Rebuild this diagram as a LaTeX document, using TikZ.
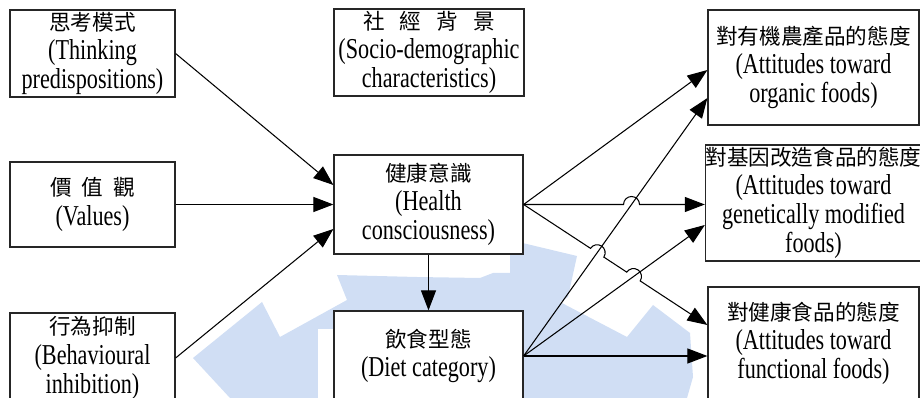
\documentclass[tikz,border=0pt]{standalone}
\usepackage{fontspec}
\setmainfont{Liberation Serif}[FakeStretch=0.77]
\newfontfamily\cjk{Noto Sans CJK TC}[Scale=0.75]
\usetikzlibrary{arrows.meta,calc,intersections}
\definecolor{wm}{RGB}{208,222,244}
\tikzset{
  box/.style={draw=black!85, line width=0.7pt, fill=white, inner sep=0pt, align=center,
    font=\fontsize{16.4pt}{16.6pt}\selectfont},
  conn/.style={line width=0.6pt, -{Triangle[length=0.4cm,width=0.3cm]}},
}
\begin{document}
\begin{tikzpicture}[x=0.02cm,y=-0.02cm]
\useasboundingbox (0,0) rectangle (920,398);
\clip (0,0) rectangle (920,398);
% watermark
\fill[wm] (230,398) -- (193,358) -- (262,302) -- (280,337) -- (347,300) -- (337,275)
  -- (417,277) -- (480,278) -- (493,273) -- (510,273) -- (510,240) -- (577,256)
  -- (568,297) -- (560,302) -- (627,337) -- (653,305) -- (690,333) -- (693,377)
  -- (687,398) -- cycle;
\fill[white] (318,329) rectangle (334,398);
% boxes
\node[box, minimum width=3.3cm, minimum height=1.74cm] (think) at (92.5,53.5)
  {{\cjk 思考模式}\\(Thinking\\predispositions)};
\node[box, minimum width=3.8cm, minimum height=1.74cm] (socio) at (429,52.5)
  {{\cjk\spaceskip=0.3cm 社 經 背 景}\\(Socio-demographic\\characteristics)};
\node[box, minimum width=3.3cm, minimum height=1.7cm] (values) at (92.5,204.5)
  {{\cjk\spaceskip=0.2cm 價 值 觀}\\(Values)};
\node[box, minimum width=3.78cm, minimum height=1.98cm] (health) at (428.5,204.5)
  {{\cjk 健康意識}\\(Health\\consciousness)};
\node[box, minimum width=3.3cm, minimum height=1.8cm] (behav) at (92.5,358)
  {{\cjk 行為抑制}\\(Behavioural\\inhibition)};
\node[box, minimum width=3.78cm, minimum height=1.8cm] (diet) at (428.5,356)
  {{\cjk 飲食型態}\\(Diet category)};
\node[box, minimum width=4.22cm, minimum height=2.3cm] (org) at (813.5,67.5)
  {{\cjk 對有機農產品的態度}\\(Attitudes toward\\organic foods)};
\node[box, minimum width=4.22cm, minimum height=2.32cm] (gm) at (813.5,203)
  {{\cjk 對基因改造食品的態度}\\(Attitudes toward\\genetically modified\\foods)};
\node[box, minimum width=4.22cm, minimum height=2.26cm] (func) at (813.5,343.5)
  {{\cjk 對健康食品的態度}\\(Attitudes toward\\functional foods)};
% end points
\coordinate (oA) at ([yshift=-0.05cm]org.west);
\coordinate (oB) at ([yshift=-0.61cm]org.west);
\coordinate (gA) at (gm.west |- health.east);
\coordinate (gB) at ([yshift=-0.44cm]gm.west);
\coordinate (fA) at ([yshift=0.37cm]func.west);
\coordinate (fB) at (func.west |- diet.east);
% left inputs
\draw[conn] (think.east) -- ([yshift=0.39cm]health.west);
\draw[conn] (values.east) -- (values.east -| health.west);
\draw[conn] (behav.east) -- ([yshift=-0.49cm]health.west);
\draw[conn] (health.south) -- (diet.north);
% crossings
\path[name path=pdo] (diet.east) -- (oB);
\path[name path=pdg] (diet.east) -- (gB);
\path[name path=phg] (health.east) -- (gA);
\path[name path=phf] (health.east) -- (fA);
\path[name intersections={of=phg and pdo, by=xa}];
\path[name intersections={of=phf and pdo, by=xb}];
\path[name intersections={of=phf and pdg, by=xc}];
% diet outputs
\draw[conn] (diet.east) -- (oB);
\draw[conn] (diet.east) -- (gB);
\draw[conn] (diet.east) -- (fB);
% health outputs
\draw[conn] (health.east) -- (oA);
\draw[conn] (health.east) -- ($(xa)+(180:0.16cm)$)
  arc[start angle=180, end angle=0, radius=0.16cm] -- (gA);
\draw[conn] let \p1=($(fA)-(health.east)$), \n1={atan2(\y1,\x1)} in
  (health.east) -- ($(xb)+({\n1+180}:0.16cm)$)
  arc[start angle=\n1+180, end angle=\n1, radius=0.16cm]
  -- ($(xc)+({\n1+180}:0.16cm)$)
  arc[start angle=\n1+180, end angle=\n1, radius=0.16cm] -- (fA);
\end{tikzpicture}
\end{document}
